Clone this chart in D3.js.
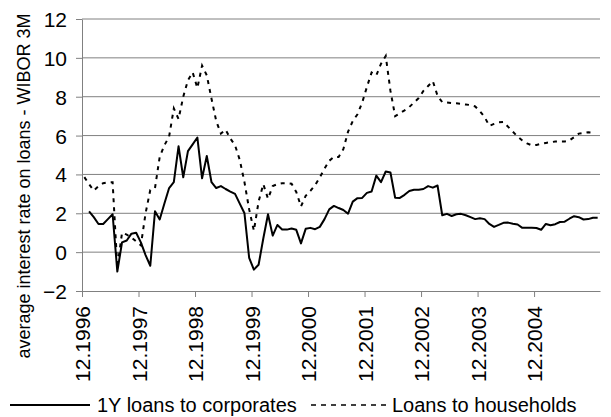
<!DOCTYPE html>
<html>
<head>
<meta charset="utf-8">
<script src="https://cdn.jsdelivr.net/npm/d3@7"></script>
<style>
	body { margin: 0; background: #fff; }
	svg { display: block; font-family: "Liberation Sans", Arial, sans-serif; }
</style>
</head>
<body>
<svg width="611" height="417"></svg>
<script>
(function() {
	"use strict"

	// monthly observations, index 0 = 12.1996
	var corporates = [null, 2.1, 1.8, 1.45, 1.45, 1.7, 1.95, -1.0, 0.5, 0.6,
		0.95, 1.0, 0.5, -0.15, -0.7, 2.1, 1.68, 2.5, 3.3, 3.6,
		5.45, 3.85, 5.2, 5.55, 5.9, 3.8, 4.95, 3.6, 3.3, 3.4,
		3.25, 3.12, 3.0, 2.5, 2.0, -0.3, -0.9, -0.65, 0.7, 1.95,
		0.85, 1.4, 1.17, 1.16, 1.22, 1.15, 0.45, 1.2, 1.25, 1.18,
		1.3, 1.7, 2.2, 2.38, 2.27, 2.17, 1.98, 2.6, 2.78, 2.79,
		3.05, 3.12, 3.94, 3.6, 4.15, 4.1, 2.8, 2.79, 2.95, 3.15,
		3.21, 3.21, 3.25, 3.4, 3.32, 3.43, 1.9, 1.97, 1.86, 1.95,
		1.97, 1.9, 1.8, 1.7, 1.74, 1.7, 1.45, 1.3, 1.4, 1.51,
		1.52, 1.46, 1.42, 1.25, 1.25, 1.25, 1.24, 1.15, 1.45, 1.38,
		1.44, 1.55, 1.57, 1.72, 1.85, 1.8, 1.68, 1.7, 1.77, 1.77],
		households = [3.86, 3.5, 3.17, 3.4, 3.55, 3.6, 3.6, -0.8, 1.0, 0.9,
		0.75, 0.55, 0.35, 2.0, 3.2, 3.3, 4.9, 5.5, 5.95, 7.4,
		6.85, 8.0, 8.85, 9.25, 8.45, 9.6, 9.1, 7.9, 6.75, 6.1,
		6.3, 5.85, 5.5, 4.75, 3.6, 2.2, 1.1, 2.6, 3.5, 2.75,
		3.4, 3.5, 3.55, 3.55, 3.52, 3.1, 2.35, 2.9, 3.15, 3.45,
		3.85, 4.3, 4.7, 4.9, 4.9, 5.3, 6.2, 6.75, 7.1, 7.7,
		8.5, 9.25, 9.1, 9.7, 10.1, 8.3, 7.0, 7.15, 7.3, 7.47,
		7.7, 7.93, 8.3, 8.55, 8.8, 8.05, 7.72, 7.7, 7.68, 7.66,
		7.63, 7.6, 7.57, 7.5, 7.25, 6.95, 6.5, 6.6, 6.68, 6.7,
		6.45, 6.2, 5.95, 5.75, 5.6, 5.5, 5.52, 5.57, 5.62, 5.66,
		5.69, 5.69, 5.69, 5.75, 5.92, 6.1, 6.13, 6.17, 6.15],
		xTickLabels = ["12.1996", "12.1997", "12.1998", "12.1999", "12.2000", "12.2001", "12.2002", "12.2003", "12.2004"],
		yTicks = [-2, 0, 2, 4, 6, 8, 10, 12],
		seriesNames = ["1Y loans to corporates", "Loans to households"],
		monthCount = 110;

	var svg = d3.select("svg"),
		left = 82,
		right = 600,
		top = 19,
		bottom = 291,
		gridColor = "#808080",
		fontFamily = "'Liberation Sans', Arial, sans-serif";

	var x = d3.scaleLinear().domain([0, monthCount]).range([left, right]),
		y = d3.scaleLinear().domain([-2, 12]).range([bottom, top]);

	// horizontal grid
	svg.append("g")
		.selectAll("line")
		.data(yTicks.filter(function(d) { return d > -2; }))
		.enter()
		.append("line")
			.attr("x1", left)
			.attr("x2", right)
			.attr("y1", function(d) { return y(d); })
			.attr("y2", function(d) { return y(d); })
			.style("stroke", gridColor)
			.style("stroke-width", 1);

	// y axis
	var yAxis = svg.append("g")
		.attr("transform", "translate(" + left + ",0)")
		.call(d3.axisLeft(y).tickValues(yTicks).tickSize(6).tickPadding(9).tickSizeOuter(0))
		.attr("font-family", fontFamily)
		.attr("font-size", 21);
	yAxis.select(".domain").style("stroke", gridColor);
	yAxis.selectAll(".tick line").style("stroke", gridColor);
	yAxis.selectAll("text")
		.style("fill", "#000")
		.attr("dy", "0.36em");

	// x axis
	var xAxis = svg.append("g")
		.attr("transform", "translate(0," + bottom + ")")
		.call(d3.axisBottom(x)
			.tickValues(xTickLabels.map(function(d, i) { return i * 12; }))
			.tickSize(6)
			.tickSizeOuter(0)
			.tickFormat(function(d) { return xTickLabels[d / 12]; }))
		.attr("font-family", fontFamily)
		.attr("font-size", 21);
	xAxis.select(".domain").style("stroke", gridColor);
	xAxis.selectAll(".tick line").style("stroke", gridColor);
	xAxis.selectAll("text")
		.style("fill", "#000")
		.attr("text-anchor", "end")
		.attr("transform", "translate(0,15) rotate(-90)")
		.attr("x", 0)
		.attr("y", 0)
		.attr("dy", "0.36em");

	// y axis title
	svg.append("text")
		.attr("transform", "translate(30,186) rotate(-90)")
		.attr("text-anchor", "middle")
		.style("font-size", "18px")
		.text("average interest rate on loans - WIBOR 3M");

	var line = d3.line()
		.defined(function(d) { return d != null; })
		.x(function(d, i) { return x(i + 0.5); })
		.y(function(d) { return y(d); });

	svg.append("path")
		.datum(households)
		.attr("d", line)
		.style("fill", "none")
		.style("stroke", "#000")
		.style("stroke-width", 2)
		.style("stroke-dasharray", "4,5");

	svg.append("path")
		.datum(corporates)
		.attr("d", line)
		.style("fill", "none")
		.style("stroke", "#000")
		.style("stroke-width", 2)
		.style("stroke-linejoin", "round");

	// legend
	var legend = svg.append("g");
	legend.append("line")
		.attr("x1", 10).attr("x2", 90).attr("y1", 405).attr("y2", 405)
		.style("stroke", "#000").style("stroke-width", 2);
	legend.append("text")
		.attr("x", 97).attr("y", 405).attr("dy", "0.36em")
		.style("font-size", "20px")
		.text(seriesNames[0]);
	legend.append("line")
		.attr("x1", 311).attr("x2", 386).attr("y1", 405).attr("y2", 405)
		.style("stroke", "#000").style("stroke-width", 1.3)
		.style("stroke-dasharray", "5,5");
	legend.append("text")
		.attr("x", 392).attr("y", 405).attr("dy", "0.36em")
		.style("font-size", "20px")
		.text(seriesNames[1]);
})();
</script>
</body>
</html>
